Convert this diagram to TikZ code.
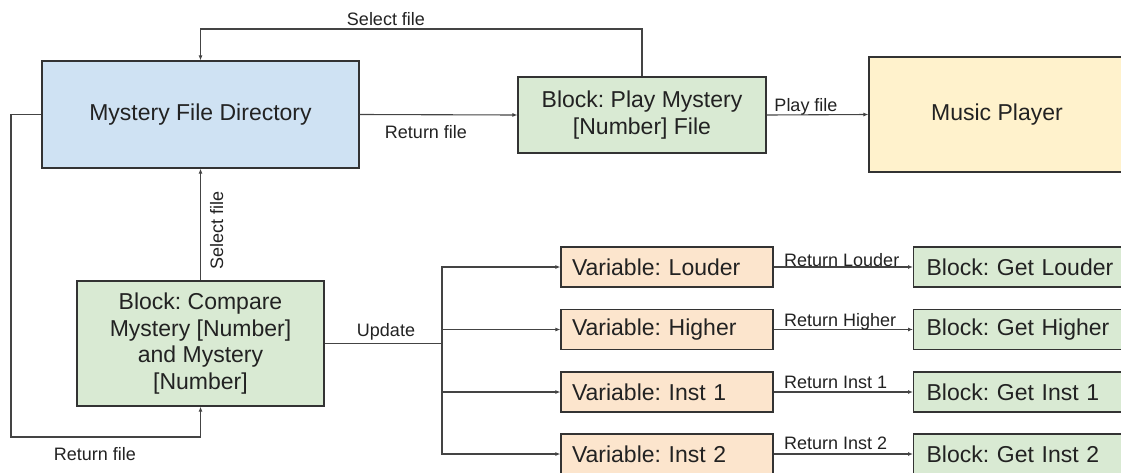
\documentclass[tikz,border=0pt]{standalone}
\usepackage{fontspec}
\setmainfont{Liberation Sans}
\usetikzlibrary{arrows.meta}
\definecolor{dirblue}{HTML}{CFE2F3}
\definecolor{blockgreen}{HTML}{D9EAD3}
\definecolor{playeryellow}{HTML}{FFF2CC}
\definecolor{varorange}{HTML}{FCE5CD}
\definecolor{edgegray}{HTML}{333333}
\definecolor{wiregray}{HTML}{444444}
\definecolor{inkgray}{HTML}{222222}

\begin{document}
\frenchspacing
\begin{tikzpicture}[x=1pt,y=-1pt,
  box/.style={draw=edgegray, line width=1.2pt, inner sep=0pt, align=center,
    font=\fontsize{23}{26.5}\selectfont, text=inkgray},
  varslot/.style={box, fill=varorange, minimum height=40pt, inner xsep=11pt, text width=190pt, align=left},
  getslot/.style={box, fill=blockgreen, anchor=west, minimum height=40pt, inner xsep=13pt, text width=200pt, align=left},
  lbl/.style={font=\fontsize{18}{21}\selectfont, text=inkgray, inner sep=0pt},
  conn/.style={draw=wiregray, line width=1.1pt, -{Latex[length=5pt,width=4pt]}},
  wire/.style={draw=wiregray, line width=1.1pt}
]
\useasboundingbox (0,0) rectangle (1121,472);
\clip (0,0) rectangle (1121,472);

% main boxes
\node[box, fill=dirblue, minimum width=317pt, minimum height=107pt] (mfd) at (200.5,114.5) {Mystery File Directory};
\node[box, fill=blockgreen, minimum width=248pt, minimum height=76pt] (play) at (642,115) {Block: Play Mystery\\{}[Number] File};
\node[box, fill=playeryellow, minimum width=256pt, minimum height=115pt] (music) at (997,114.5) {Music Player};
\node[box, fill=blockgreen, minimum width=247pt, minimum height=125pt] (cmp) at (200.5,343.5) {Block: Compare\\Mystery [Number]\\and Mystery\\{}[Number]};

% variables and their getter blocks
\node[varslot] (v1) at (667,267) {Variable: Louder};
\node[varslot] (v2) at (667,329.5) {Variable: Higher};
\node[varslot] (v3) at (667,392) {Variable: Inst 1};
\node[varslot] (v4) at (667,454) {Variable: Inst 2};
\node[getslot] (g1) at (913,267) {Block: Get Louder};
\node[getslot] (g2) at (913,329.5) {Block: Get Higher};
\node[getslot] (g3) at (913,392) {Block: Get Inst 1};
\node[getslot] (g4) at (913,454) {Block: Get Inst 2};

% helper points for routed connectors
\coordinate (selTop) at (0,29);
\coordinate (loopL) at (11,437);
\coordinate (fork) at (442,343.5);

% connectors
\draw[conn] (mfd.east) -- (play.west);
\draw[conn] (play.north) -- (play.north |- selTop) -| (mfd.north);
\draw[conn] (play.east) -- (music.west);
\draw[conn] (mfd.west) -| (loopL) -| (cmp.south);
\draw[conn] (cmp.north) -- (mfd.south);
\draw[wire] (cmp.east) -- (fork);
\draw[conn] (fork) |- (v1.west);
\draw[conn] (fork) |- (v2.west);
\draw[conn] (fork) |- (v3.west);
\draw[conn] (fork) |- (v4.west);
\draw[conn] (v1.east) -- (g1.west);
\draw[conn] (v2.east) -- (g2.west);
\draw[conn] (v3.east) -- (g3.west);
\draw[conn] (v4.east) -- (g4.west);

% connector labels
\node[lbl, anchor=base] (lsel) at (386,25) {Select file};
\node[lbl, anchor=base] (lret) at (426,138) {Return file};
\node[lbl, anchor=base] (lplay) at (806,111) {Play file};
\node[lbl, anchor=base, rotate=90] (lsel2) at (223,230.5) {Select file};
\node[lbl, anchor=base] (lret2) at (95,460) {Return file};
\node[lbl, anchor=base] (lupd) at (386,336) {Update};
\node[lbl, anchor=base west] (lr1) at (784,266) {Return Louder};
\node[lbl, anchor=base west] (lr2) at (784,326) {Return Higher};
\node[lbl, anchor=base west] (lr3) at (784,388) {Return Inst 1};
\node[lbl, anchor=base west] (lr4) at (784,449) {Return Inst 2};
\end{tikzpicture}
\end{document}
